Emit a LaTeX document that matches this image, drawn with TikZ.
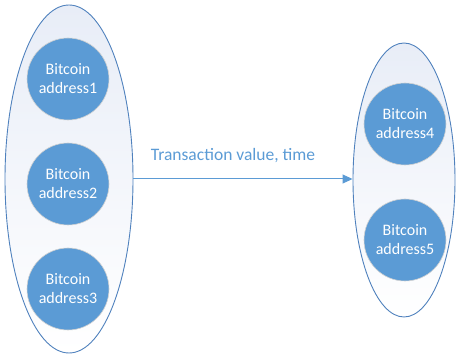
\documentclass[tikz,border=0pt]{standalone}
\usepackage{fontspec}
\setmainfont{Carlito}
\usetikzlibrary{shapes.geometric,arrows.meta,positioning}
\definecolor{addrblue}{HTML}{5B9BD5}
\definecolor{rimblue}{HTML}{4F81BD}
\definecolor{haze}{HTML}{E8EDF7}
\tikzset{
	addr/.style={circle,fill=addrblue,draw=gray!35,line width=0.6pt,minimum size=82pt,inner sep=0pt,
		text=white,align=center,font=\fontsize{16}{19}\selectfont},
	wallet/.style={ellipse,draw=rimblue,line width=0.9pt,top color=haze,bottom color=white,inner sep=0pt},
}

\begin{document}
\begin{tikzpicture}[x=1pt,y=-1pt]
	\useasboundingbox (0,0) rectangle (456,358);
	%sender side
	\node[wallet,minimum width=128pt,minimum height=348pt] (w1) at (69,179) {};
	\node[addr] (a1) at (68,79) {Bitcoin\\address1};
	\node[addr] (a2) at (68,184) {Bitcoin\\address2};
	\node[addr] (a3) at (68,289) {Bitcoin\\address3};
	%receiver side
	\node[wallet,minimum width=102pt,minimum height=274pt] (w2) at (404,180) {};
	\node[addr] (a4) at (405,124) {Bitcoin\\address4};
	\node[addr] (a5) at (405,240) {Bitcoin\\address5};

	\draw[addrblue,line width=1pt,-{Triangle[length=10pt,width=9pt]}] (w1.east) -- (w1.east -| w2.west);
	\node[text=addrblue,font=\fontsize{17.5}{20}\selectfont] (lbl) at (233,156) {Transaction value, time};
\end{tikzpicture}
\end{document}
